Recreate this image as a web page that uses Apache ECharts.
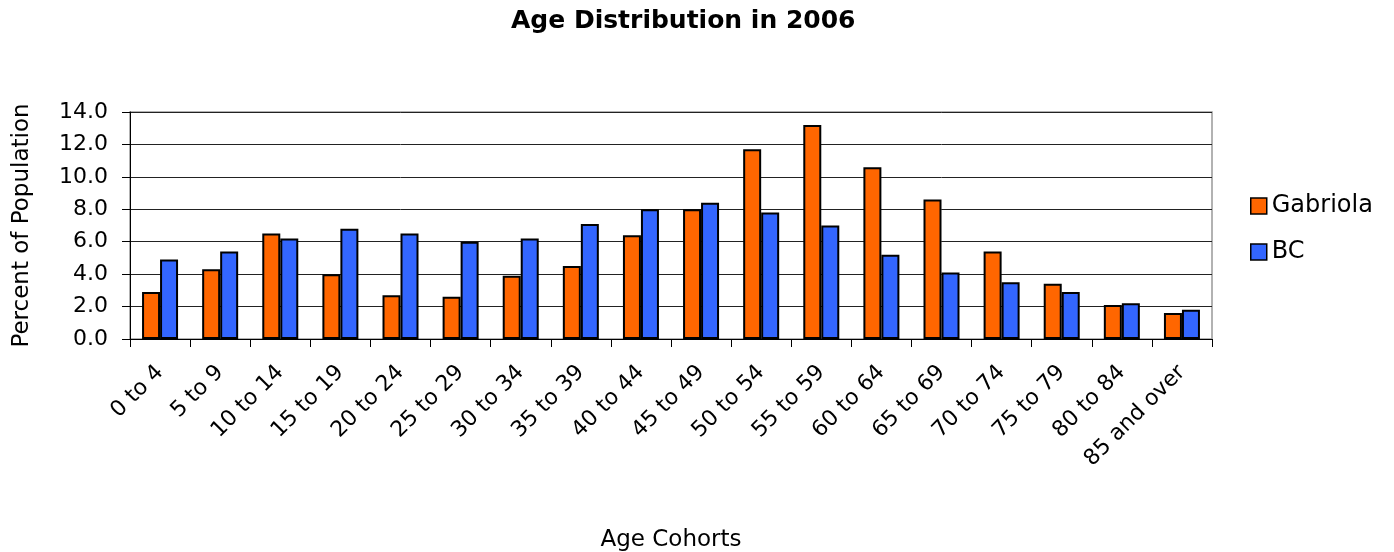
<!DOCTYPE html>
<html><head><meta charset="utf-8">
<script src="https://cdn.jsdelivr.net/npm/echarts@6/dist/echarts.min.js"></script>
<style>html,body{margin:0;padding:0;background:#fff}#c{width:1394px;height:552px}</style>
</head><body><div id="c"></div>
<script>
const categories = ["0 to 4","5 to 9","10 to 14","15 to 19","20 to 24","25 to 29","30 to 34","35 to 39","40 to 44","45 to 49","50 to 54","55 to 59","60 to 64","65 to 69","70 to 74","75 to 79","80 to 84","85 and over"];
const gabriola = [2.9,4.3,6.5,4.0,2.7,2.6,3.9,4.5,6.4,8.0,11.7,13.2,10.6,8.6,5.4,3.4,2.1,1.6];
const bc = [4.9,5.4,6.2,6.8,6.5,6.0,6.2,7.1,8.0,8.4,7.8,7.0,5.2,4.1,3.5,2.9,2.2,1.8];
const yTicks = [0,2,4,6,8,10,12,14];
const FONT = "DejaVu Sans";
const chart = echarts.init(document.getElementById('c'));
chart.setOption({
  animation:false,
  title:{text:"Age Distribution in 2006",left:506,top:4,textStyle:{fontFamily:FONT,fontSize:25,fontWeight:'bold',color:'#000'}},
  legend:{orient:'vertical',left:1245,top:189,itemWidth:16,itemHeight:16,itemGap:22,icon:'rect',
    textStyle:{fontFamily:FONT,fontSize:24,color:'#000',padding:[0,0,0,0]},
    data:[{name:'Gabriola',itemStyle:{borderColor:'#000',borderWidth:1.5}},{name:'BC',itemStyle:{borderColor:'#000',borderWidth:1.5}}]},
  grid:{left:130,top:112,width:1082,height:227,show:true,borderColor:'#999',borderWidth:1.5,containLabel:false,outerBoundsMode:'none'},
  xAxis:{type:'category',data:categories,name:'Age Cohorts',nameLocation:'middle',nameGap:190,
    nameTextStyle:{fontFamily:FONT,fontSize:23,color:'#000'},
    axisLine:{lineStyle:{color:'#000',width:1}},
    axisTick:{show:true,length:8,lineStyle:{color:'#000'}},
    axisLabel:{rotate:45,fontFamily:FONT,fontSize:22,color:'#000',margin:30,interval:0}},
  yAxis:{type:'value',min:0,max:14,interval:2,name:'Percent of Population',nameLocation:'middle',nameGap:96,
    nameTextStyle:{fontFamily:FONT,fontSize:23,color:'#000'},
    axisLine:{show:true,lineStyle:{color:'#000'}},
    axisTick:{show:true,length:8,lineStyle:{color:'#000'}},
    splitLine:{lineStyle:{color:'#222',width:1}},
    axisLabel:{fontFamily:FONT,fontSize:22,color:'#000',margin:22,formatter:v=>yTicks.includes(v)?v.toFixed(1):''}},
  series:[
    {name:'Gabriola',type:'bar',data:gabriola,barWidth:18,barGap:'0%',itemStyle:{color:'#FF6600',borderColor:'#000',borderWidth:2}},
    {name:'BC',type:'bar',data:bc,barWidth:18,itemStyle:{color:'#3366FF',borderColor:'#000',borderWidth:2}}
  ]
});
</script></body></html>
